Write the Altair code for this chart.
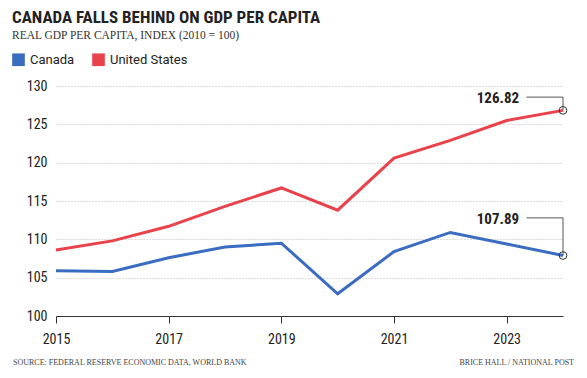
import altair as alt
import pandas as pd

years = list(range(2015, 2025))
canada = [105.9, 105.8, 107.6, 109.0, 109.5, 102.9, 108.4, 110.9, 109.4, 107.89]
usa = [108.6, 109.8, 111.7, 114.3, 116.7, 113.8, 120.6, 122.9, 125.5, 126.82]
series_names = ["Canada", "United States"]
series_colors = ["#3a6cc2", "#ea424a"]
x_ticks = [2015, 2017, 2019, 2021, 2023]
y_ticks = [100, 105, 110, 115, 120, 125, 130]

end_labels = ["126.82", "107.89"]
end_values = [126.82, 107.89]
label_levels = [128.55, 112.8]

COND = "Roboto Condensed, Liberation Sans Narrow, DejaVu Sans Condensed, Roboto, sans-serif"
SERIF = "Liberation Serif, DejaVu Serif, serif"

rows = []
for y, c, u in zip(years, canada, usa):
    rows.append({"year": y, "value": c, "series": "Canada"})
    rows.append({"year": y, "value": u, "series": "United States"})
df = pd.DataFrame(rows)

ann = pd.DataFrame({
    "label": end_labels,
    "value": end_values,
    "level": label_levels,
    "x_end": [2024, 2024],
    "x_start": [2023.35, 2023.35],
    "x_text": [2023.22, 2023.22],
})

xscale = alt.Scale(domain=[2015, 2024], nice=False, zero=False)
yscale = alt.Scale(domain=[100, 130], nice=False, zero=False)

xaxis = alt.Axis(values=x_ticks, format="d", title=None, grid=False,
                 domainColor="#333", domainWidth=1, tickColor="#333", tickSize=7,
                 labelFont=COND, labelFontSize=14, labelColor="#222", labelPadding=9,
                 labelFlush=False)
yaxis = alt.Axis(values=y_ticks, title=None, domain=False, ticks=False,
                 grid=True, gridColor="#bbbbbb", gridDash=[1, 2], gridWidth=1,
                 labelOverlap=False,
                 labelFont=COND, labelFontSize=14, labelColor="#222", labelPadding=9)

legend = alt.Legend(
    title=None, orient="none", legendX=-44, legendY=-33,
    direction="horizontal", symbolType="square",
    symbolSize=160, symbolStrokeWidth=0, symbolOpacity=1,
    labelFont="Roboto, sans-serif", labelFontSize=13,
    labelColor="#222", columnPadding=17, labelOffset=5)

color = alt.Color("series:N", scale=alt.Scale(domain=series_names, range=series_colors),
                  legend=legend)

key_points = alt.Chart(df).mark_point(filled=True, shape="square", size=0, opacity=1).encode(
    x=alt.X("year:Q", scale=xscale, axis=xaxis),
    y=alt.Y("value:Q", scale=yscale, axis=yaxis),
    color=color,
)

lines = alt.Chart(df).mark_line(strokeWidth=3, strokeCap="butt", strokeJoin="miter").encode(
    x=alt.X("year:Q", scale=xscale, axis=xaxis),
    y=alt.Y("value:Q", scale=yscale, axis=yaxis),
    color=color,
)

base_ann = alt.Chart(ann)
hrule = base_ann.mark_rule(color="#555", strokeWidth=1).encode(
    x=alt.X("x_start:Q", scale=xscale, axis=xaxis), x2="x_end:Q",
    y=alt.Y("level:Q", scale=yscale, axis=yaxis))
vrule = base_ann.mark_rule(color="#555", strokeWidth=1).encode(
    x=alt.X("x_end:Q", scale=xscale, axis=xaxis),
    y=alt.Y("level:Q", scale=yscale, axis=yaxis), y2="value:Q")
circles = base_ann.mark_point(shape="circle", size=60, filled=False, stroke="#333",
                              strokeWidth=1, opacity=1).encode(
    x=alt.X("x_end:Q", scale=xscale, axis=xaxis),
    y=alt.Y("value:Q", scale=yscale, axis=yaxis))
labels = base_ann.mark_text(align="right", baseline="middle", font=COND, fontSize=15,
                            fontWeight="bold", color="#222", dy=1).encode(
    x=alt.X("x_text:Q", scale=xscale, axis=xaxis),
    y=alt.Y("level:Q", scale=yscale, axis=yaxis), text="label:N")

foot = pd.DataFrame({"t": ["SOURCE: FEDERAL RESERVE ECONOMIC DATA, WORLD BANK"],
                     "r": ["BRICE HALL / NATIONAL POST"]})
foot_l = alt.Chart(foot).mark_text(align="left", baseline="middle", font=SERIF, fontSize=8,
                                   color="#444").encode(
    x=alt.value(-43), y=alt.value(277), text="t:N")
foot_r = alt.Chart(foot).mark_text(align="right", baseline="middle", font=SERIF, fontSize=8,
                                   color="#444").encode(
    x=alt.value(518), y=alt.value(277), text="r:N")

chart = alt.layer(key_points, lines, hrule, vrule, circles, labels, foot_l, foot_r).properties(
    width=507, height=230,
    title=alt.TitleParams(
        text="CANADA FALLS BEHIND ON GDP PER CAPITA",
        subtitle="REAL GDP PER CAPITA, INDEX (2010 = 100)",
        anchor="start", frame="group", dx=-44, offset=11,
        font=COND, fontSize=17, fontWeight="bold", color="#222",
        subtitleFont=SERIF, subtitleFontSize=11.5, subtitleColor="#333",
        subtitlePadding=3),
    autosize=alt.AutoSizeParams(type="none"),
    padding={"left": 48, "top": 78, "right": 16, "bottom": 54},
).configure_view(stroke=None)

chart.save("out.html", embed_options={"renderer": "svg", "actions": False})
